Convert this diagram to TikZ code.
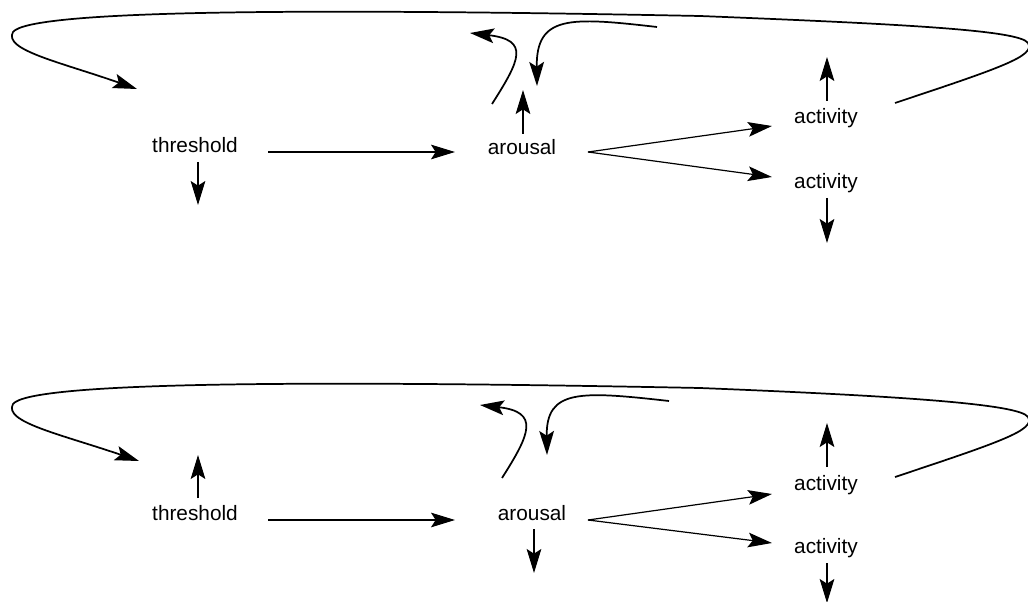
\documentclass[tikz,border=0pt]{standalone}
\usepackage{fontspec}
\setmainfont{Liberation Sans}
\usetikzlibrary{arrows.meta}
\begin{document}
\begin{tikzpicture}[x=0.75pt,y=-0.75pt,
  lbl/.style={font=\fontsize{15.6pt}{18pt}\selectfont, inner sep=0pt},
  arr/.style={line width=0.9pt, -{Stealth[length=18pt,width=11pt,inset=3.5pt]}},
  curv/.style={line width=1.3pt, -{Stealth[length=18pt,width=11pt,inset=3.5pt]}}]
\useasboundingbox (0,0) rectangle (1028,602);

% ---------- top panel ----------
\node[lbl] (thr1) at (195,145) {threshold};
\node[lbl] (aro1) at (522,147) {arousal};
\node[lbl] (act1a) at (826,118) {activity};
\node[lbl] (act1b) at (826,183) {activity};

\coordinate (L1s) at (895,103);
\coordinate (L1e) at (137,89);
\coordinate (T1a) at (198,162); \coordinate (T1b) at (198,205);
\coordinate (H1a) at (268,152); \coordinate (H1b) at (455,152);
\coordinate (A1a) at (523,134); \coordinate (A1b) at (523,90);
\coordinate (C1a) at (492,104); \coordinate (C1b) at (470,33);
\coordinate (D1a) at (657,27);  \coordinate (D1b) at (537,86);
\coordinate (F1) at (588,152);
\coordinate (G1a) at (772,126); \coordinate (G1b) at (772,177);
\coordinate (U1a) at (827,101); \coordinate (U1b) at (827,57);
\coordinate (V1a) at (827,198); \coordinate (V1b) at (827,243);

\draw[curv] (L1s) .. controls (1000,68) and (1036,56) .. (1028,43)
  .. controls (1020,30) and (900,24) .. (700,16)
  .. controls (300,8) and (30,10) .. (13,32)
  .. controls (3,50) and (60,62) .. (L1e);
\draw[arr] (T1a) -- (T1b);
\draw[arr] (H1a) -- (H1b);
\draw[arr] (A1a) -- (A1b);
\draw[curv] (C1a) .. controls (520,60) and (530,40) .. (C1b);
\draw[curv] (D1a) .. controls (570,17) and (536,15) .. (D1b);
\draw[arr] (F1) -- (G1a);
\draw[arr] (F1) -- (G1b);
\draw[arr] (U1a) -- (U1b);
\draw[arr] (V1a) -- (V1b);

% ---------- bottom panel ----------
\node[lbl] (thr2) at (195,513) {threshold};
\node[lbl] (aro2) at (532,513) {arousal};
\node[lbl] (act2a) at (826,485) {activity};
\node[lbl] (act2b) at (826,548) {activity};

\coordinate (L2s) at (895,477);
\coordinate (L2e) at (139,461);
\coordinate (T2a) at (198,498); \coordinate (T2b) at (198,455);
\coordinate (H2a) at (268,520); \coordinate (H2b) at (455,520);
\coordinate (A2a) at (534,529); \coordinate (A2b) at (534,573);
\coordinate (C2a) at (502,478); \coordinate (C2b) at (480,405);
\coordinate (D2a) at (669,401); \coordinate (D2b) at (547,455);
\coordinate (F2) at (588,520);
\coordinate (G2a) at (772,494); \coordinate (G2b) at (772,543);
\coordinate (U2a) at (827,467); \coordinate (U2b) at (827,423);
\coordinate (V2a) at (827,563); \coordinate (V2b) at (827,603);

\draw[curv] (L2s) .. controls (1000,442) and (1036,430) .. (1028,417)
  .. controls (1020,404) and (900,396) .. (700,388)
  .. controls (300,380) and (30,382) .. (13,404)
  .. controls (3,422) and (60,434) .. (L2e);
\draw[arr] (T2a) -- (T2b);
\draw[arr] (H2a) -- (H2b);
\draw[arr] (A2a) -- (A2b);
\draw[curv] (C2a) .. controls (530,434) and (540,412) .. (C2b);
\draw[curv] (D2a) .. controls (580,391) and (546,389) .. (D2b);
\draw[arr] (F2) -- (G2a);
\draw[arr] (F2) -- (G2b);
\draw[arr] (U2a) -- (U2b);
\draw[arr] (V2a) -- (V2b);
\end{tikzpicture}
\end{document}
